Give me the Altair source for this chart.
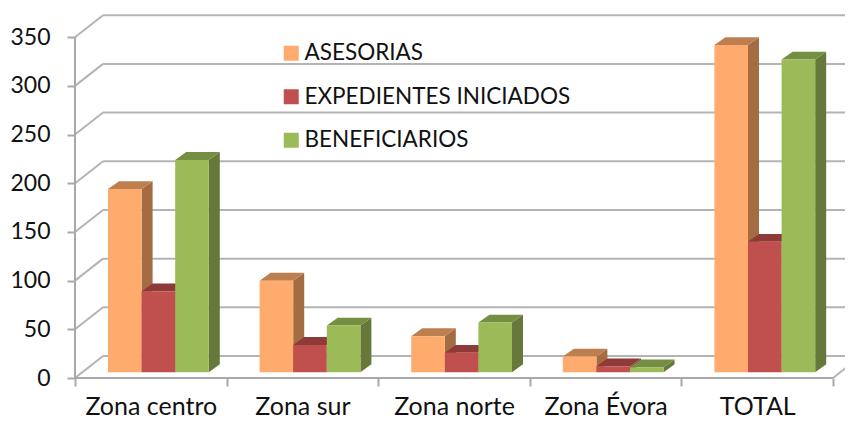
import altair as alt
import pandas as pd

categories = ["Zona centro", "Zona sur", "Zona norte", "Zona Évora", "TOTAL"]
series = ["ASESORIAS", "EXPEDIENTES INICIADOS", "BENEFICIARIOS"]
asesorias = [188, 94, 37, 16, 336]
expedientes = [83, 28, 20, 6, 134]
beneficiarios = [218, 48, 51, 5, 321]
y_ticks = [0, 50, 100, 150, 200, 250, 300, 350]

front_colors = ["#FFAB6D", "#C0504D", "#9BBB59"]
side_colors = ["#A56C43", "#8F3B39", "#67793A"]
top_colors = ["#BE7F50", "#8E3A38", "#748F41"]
GRID = "#B4B4B4"
AXIS = "#A8A8A8"
FONT = "Lato"

# layout in scale units
WALL_DX, WALL_DY = 0.185, 22.6
BAR_DX, BAR_DY = 0.0726, 8.0
BAR_START, BAR_W, BASE = 0.2177, 0.2216, 6.0
VIEW_W = 770
X_MAX = VIEW_W / 151.6
Y_MAX = 380

fronts, sides, tops = [], [], []
for s, vals in enumerate([asesorias, expedientes, beneficiarios]):
    for c, v in enumerate(vals):
        u0 = c + BAR_START + s * BAR_W
        u1 = u0 + BAR_W
        b, t = BASE, BASE + v
        key = f"{s}-{c}"
        fronts.append(dict(series=series[s], u0=u0, u1=u1, b=b, t=t))
        sides.append(dict(key=key, x=u1, lo=b, hi=t, col=side_colors[s]))
        sides.append(dict(key=key, x=u1 + BAR_DX, lo=b + BAR_DY, hi=t + BAR_DY, col=side_colors[s]))
        for x, lo, hi in [
            (u0, t, t),
            (u0 + BAR_DX, t, t + BAR_DY),
            (u1, t, t + BAR_DY),
            (u1 + BAR_DX, t + BAR_DY, t + BAR_DY),
        ]:
            tops.append(dict(key=key, x=x, lo=lo, hi=hi, col=top_colors[s]))

diag = []
for v in y_ticks:
    diag.append(dict(key=str(v), x=0, y=v))
    diag.append(dict(key=str(v), x=WALL_DX, y=v + WALL_DY))
diag.append(dict(key="right", x=len(categories), y=0))
diag.append(dict(key="right", x=len(categories) + WALL_DX, y=WALL_DY))
back = [dict(y=v + WALL_DY, x=WALL_DX, x2=X_MAX) for v in y_ticks]

xs = alt.Scale(domain=[0, X_MAX], nice=False, zero=False)
ys = alt.Scale(domain=[0, Y_MAX], nice=False, zero=False)
names = "[" + ",".join(f"'{c}'" for c in categories) + ",'']"
x_axis = alt.Axis(
    values=list(range(len(categories) + 1)), labelExpr=f"{names}[datum.value]",
    labelOffset=75.8, title=None, grid=False, domain=False, tickColor=AXIS,
    tickWidth=2, tickSize=8, labelFont=FONT, labelFontSize=25, labelColor="#111111",
    labelPadding=8, labelOverlap=False, labelBound=False, labelFlush=False,
)
y_axis = alt.Axis(
    values=y_ticks, title=None, grid=False, domain=False, tickColor=AXIS,
    tickWidth=2, tickSize=8, labelFont=FONT, labelFontSize=23, labelColor="#111111",
    labelPadding=17, labelOverlap=False, labelBound=False, labelFlush=False,
)

grid_h = alt.Chart(pd.DataFrame(back)).mark_rule(color=GRID, strokeWidth=2, clip=True).encode(
    x=alt.X("x:Q", scale=xs, axis=x_axis), x2="x2:Q",
    y=alt.Y("y:Q", scale=ys, axis=y_axis),
)
grid_d = alt.Chart(pd.DataFrame(diag)).mark_line(color=GRID, strokeWidth=2, clip=True).encode(
    x=alt.X("x:Q", scale=xs), y=alt.Y("y:Q", scale=ys), detail="key:N",
)
axis_y = alt.Chart(pd.DataFrame([dict(x=0, y=0, y2=y_ticks[-1])])).mark_rule(color=AXIS, strokeWidth=2).encode(
    x=alt.X("x:Q", scale=xs), y=alt.Y("y:Q", scale=ys), y2="y2:Q",
)
axis_x = alt.Chart(pd.DataFrame([dict(y=0, x=0, x2=len(categories))])).mark_rule(color=AXIS, strokeWidth=2).encode(
    x=alt.X("x:Q", scale=xs), x2="x2:Q", y=alt.Y("y:Q", scale=ys),
)


def face(rows):
    return alt.Chart(pd.DataFrame(rows)).mark_area(orient="vertical").encode(
        x=alt.X("x:Q", scale=xs),
        y=alt.Y("hi:Q", scale=ys, stack=None),
        y2="lo:Q",
        detail="key:N",
        color=alt.Color("col:N", scale=None),
    )


front = alt.Chart(pd.DataFrame(fronts)).mark_rect().encode(
    x=alt.X("u0:Q", scale=xs), x2="u1:Q",
    y=alt.Y("t:Q", scale=ys), y2="b:Q",
    color=alt.Color(
        "series:N",
        scale=alt.Scale(domain=series, range=front_colors),
        legend=alt.Legend(
            title=None, orient="none", legendX=205, legendY=34, symbolType="square",
            symbolSize=225, symbolStrokeWidth=0, labelFont=FONT, labelFontSize=22.5,
            labelColor="#111111", labelOffset=2, rowPadding=20.5, labelLimit=400,
        ),
    ),
)

chart = (
    alt.layer(grid_h, grid_d, axis_y, axis_x, face(sides), face(tops), front)
    .properties(
        width=VIEW_W, height=370, background="white",
        padding={"left": 67, "top": 0, "right": 0, "bottom": 44},
        autosize=alt.AutoSizeParams(type="none"),
    )
    .configure_view(stroke=None)
)
chart.save("out.html", embed_options={"renderer": "svg", "actions": False})
